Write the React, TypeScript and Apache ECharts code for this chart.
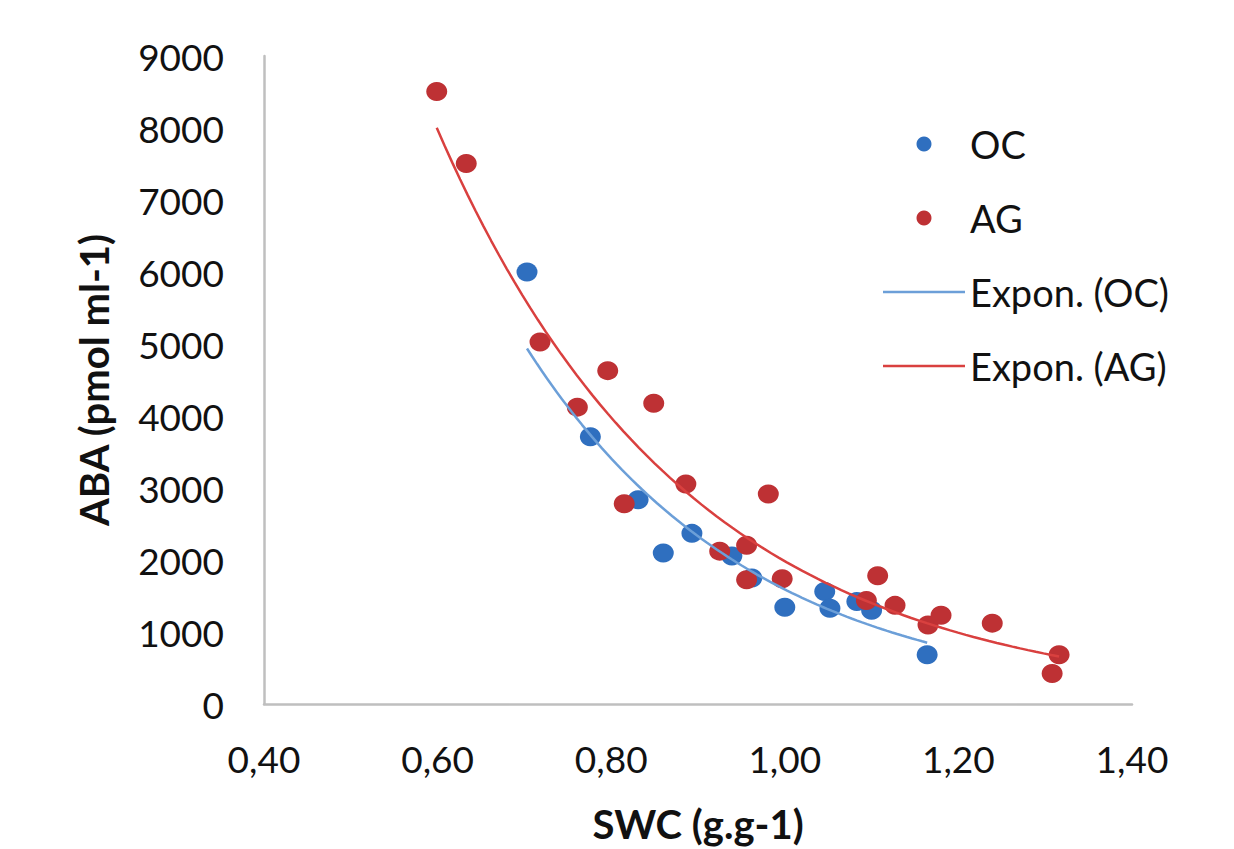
import React, { useEffect, useRef } from "react";
import * as echarts from "echarts";

const ocX = [0.703, 0.776, 0.831, 0.860, 0.893, 0.939, 0.962, 1.000, 1.046, 1.052, 1.083, 1.100, 1.164];
const ocY = [6000, 3713, 2836, 2096, 2370, 2055, 1750, 1343, 1562, 1329, 1425, 1302, 685];

const agX = [0.599, 0.633, 0.718, 0.761, 0.796, 0.849, 0.815, 0.886, 0.981, 0.925, 0.956, 0.956, 0.997, 1.107, 1.094, 1.127, 1.165, 1.180, 1.239, 1.316, 1.308];
const agY = [8507, 7507, 5027, 4123, 4630, 4178, 2781, 3055, 2918, 2123, 2206, 1726, 1740, 1781, 1438, 1370, 1096, 1233, 1123, 685, 425];

const xTicks = [0.4, 0.6, 0.8, 1.0, 1.2, 1.4];
const yTicks = [0, 1000, 2000, 3000, 4000, 5000, 6000, 7000, 8000, 9000];

const seriesNames = ["OC", "AG", "Expon. (OC)", "Expon. (AG)"];

const BLUE = "#2F6FBF";
const RED = "#BE3134";
const BLUE_LINE = "#6C9FD8";
const RED_LINE = "#D9403F";
const FONT = "Lato";
const LINE_ICON = "path://M0,0H82V2.5H0Z";

// Excel-style exponential trendline: least squares of ln(y) on x
function expFit(xs: number[], ys: number[]) {
  const n = xs.length;
  const ly = ys.map((v) => Math.log(v));
  const mx = xs.reduce((a, b) => a + b, 0) / n;
  const my = ly.reduce((a, b) => a + b, 0) / n;
  let sxy = 0;
  let sxx = 0;
  for (let i = 0; i < n; i++) {
    sxy += (xs[i] - mx) * (ly[i] - my);
    sxx += (xs[i] - mx) * (xs[i] - mx);
  }
  const b = sxy / sxx;
  const a = Math.exp(my - b * mx);
  const lo = Math.min(...xs);
  const hi = Math.max(...xs);
  const pts: number[][] = [];
  const steps = 80;
  for (let i = 0; i <= steps; i++) {
    const x = lo + ((hi - lo) * i) / steps;
    pts.push([x, a * Math.exp(b * x)]);
  }
  return pts;
}

export default function App() {
  const ref = useRef<HTMLDivElement>(null);
  useEffect(() => {
    if (!ref.current) return;
    const chart = echarts.init(ref.current, undefined, { renderer: "svg" });
    const ocData = ocX.map((x, i) => [x, ocY[i]]);
    const agData = agX.map((x, i) => [x, agY[i]]);
    chart.setOption({
      animation: false,
      backgroundColor: "#ffffff",
      grid: { left: 264, right: 102, top: 56, bottom: 136, containLabel: false },
      legend: {
        orient: "vertical",
        left: 878,
        top: 120,
        itemWidth: 82,
        itemHeight: 15,
        itemGap: 36,
        data: [
          { name: seriesNames[0], icon: "circle" },
          { name: seriesNames[1], icon: "circle" },
          { name: seriesNames[2], icon: LINE_ICON },
          { name: seriesNames[3], icon: LINE_ICON },
        ],
        textStyle: { fontFamily: FONT, fontSize: 38, lineHeight: 38, color: "#111111" },
      },
      xAxis: {
        type: "value",
        min: xTicks[0],
        max: xTicks[xTicks.length - 1],
        interval: 0.2,
        name: "SWC (g.g-1)",
        nameLocation: "middle",
        nameGap: 100,
        nameTextStyle: { fontFamily: FONT, fontSize: 40, fontWeight: "bold", color: "#111111" },
        axisLine: { show: true, lineStyle: { color: "#BFBFBF", width: 2.5 } },
        axisTick: { show: false },
        splitLine: { show: false },
        axisLabel: {
          margin: 36,
          fontFamily: FONT,
          fontSize: 37,
          color: "#111111",
          formatter: (v: number) => v.toFixed(2).replace(".", ","),
        },
      },
      yAxis: {
        type: "value",
        min: yTicks[0],
        max: yTicks[yTicks.length - 1],
        interval: 1000,
        name: "ABA (pmol ml-1)",
        nameLocation: "middle",
        nameGap: 150,
        nameRotate: 90,
        nameTextStyle: { fontFamily: FONT, fontSize: 40, fontWeight: "bold", color: "#111111" },
        axisLine: { show: true, lineStyle: { color: "#BFBFBF", width: 2.5 } },
        axisTick: { show: false },
        splitLine: { show: false },
        axisLabel: {
          margin: 40,
          fontFamily: FONT,
          fontSize: 37,
          color: "#111111",
          formatter: (v: number) => String(v),
        },
      },
      series: [
        {
          name: seriesNames[0],
          type: "scatter",
          data: ocData,
          symbol: "circle",
          symbolSize: [21, 19],
          itemStyle: { color: BLUE, opacity: 1 },
        },
        {
          name: seriesNames[1],
          type: "scatter",
          data: agData,
          symbol: "circle",
          symbolSize: [21, 19],
          itemStyle: { color: RED, opacity: 1 },
        },
        {
          name: seriesNames[2],
          type: "line",
          data: expFit(ocX, ocY),
          symbol: "none",
          showSymbol: false,
          lineStyle: { color: BLUE_LINE, width: 2.5 },
          itemStyle: { color: BLUE_LINE },
        },
        {
          name: seriesNames[3],
          type: "line",
          data: expFit(agX, agY),
          symbol: "none",
          showSymbol: false,
          lineStyle: { color: RED_LINE, width: 2.5 },
          itemStyle: { color: RED_LINE },
        },
      ],
    });
    return () => chart.dispose();
  }, []);
  return (
    <div
      ref={ref}
      style={{ position: "absolute", left: 0, top: 0, width: 1234, height: 849 }}
    />
  );
}
